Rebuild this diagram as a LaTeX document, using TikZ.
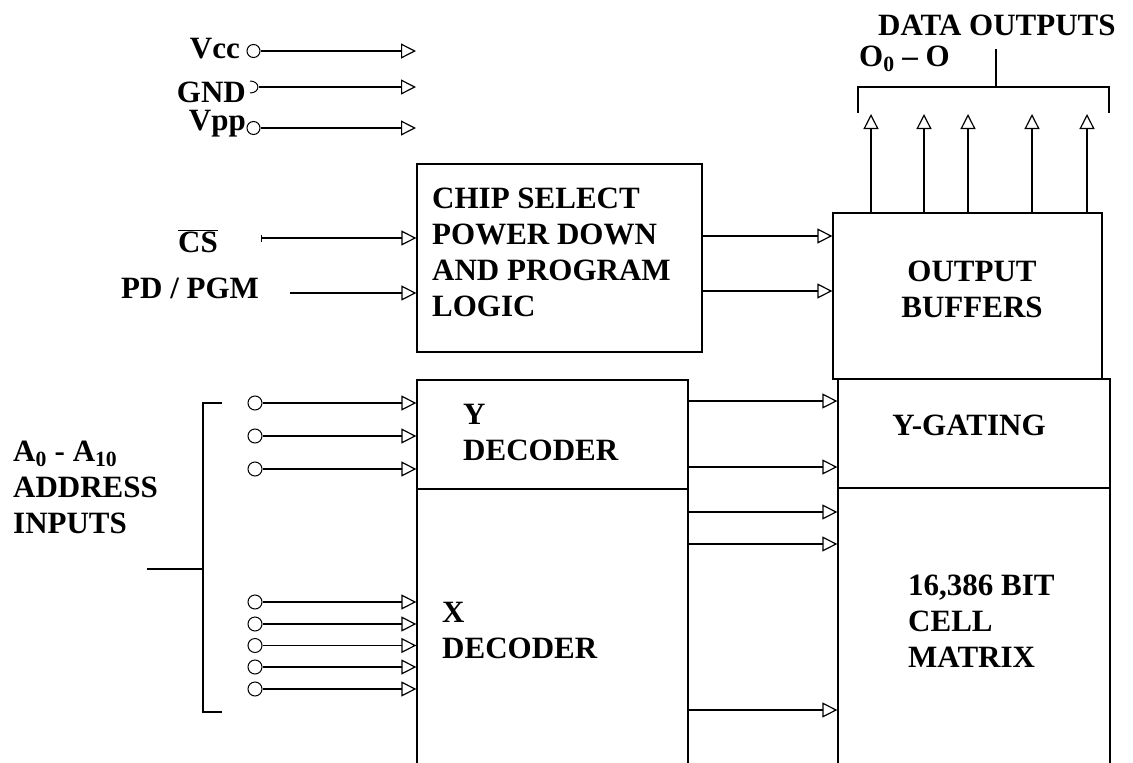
\documentclass[tikz,border=0pt]{standalone}
\usepackage{fontspec}
\setmainfont{Liberation Serif}
\usepackage{tikz}
\usetikzlibrary{arrows.meta, positioning}
\newcommand{\dfont}{\fontsize{31}{36}\selectfont\bfseries}

\begin{document}
\begin{tikzpicture}[
        x=1pt, y=-1pt,
        blk/.style={rectangle, draw, line width=1.3pt, inner sep=0pt},
        lbl/.style={font=\dfont, inner sep=0pt, align=left},
        pin/.style={circle, draw, line width=1pt, minimum size=14pt, inner sep=0pt},
        sig/.style={-{Triangle[open, length=15pt, width=15pt]}, line width=1.2pt},
        brk/.style={line width=1.2pt}
    ]
        \useasboundingbox (0,0) rectangle (1133,763);
        \clip (0,0) rectangle (1133,763);

        % blocks
        \node[blk, minimum width=285pt, minimum height=188pt] (chip) at (559.5,258) {};
        \node[blk, minimum width=269pt, minimum height=166pt] (outbuf) at (967.5,296) {};
        \node[blk, minimum width=271pt, minimum height=109pt] (ydec) at (552.5,434.5) {};
        \node[blk, minimum width=271pt, minimum height=300pt] (xdec) at (552.5,639) {};
        \node[blk, minimum width=272pt, minimum height=109pt] (ygate) at (974,433.5) {};
        \node[blk, minimum width=272pt, minimum height=300pt] (cellmx) at (974,638) {};

        % block texts (anchored at the last line's baseline)
        \node[lbl, anchor=base west] (chiptxt) at (432,316) {CHIP SELECT\\POWER DOWN\\AND PROGRAM\\LOGIC};
        \node[lbl, align=center, anchor=base] (buftxt) at (972,317) {OUTPUT\\BUFFERS};
        \node[lbl, anchor=base west] (ytxt) at (463,460) {Y\\DECODER};
        \node[lbl, anchor=base west] (xtxt) at (442,658) {X\\DECODER};
        \node[lbl, anchor=base] (gatetxt) at (969,435) {Y-GATING};
        \node[lbl, anchor=base west] (celltxt) at (908,667) {16,386 BIT\\CELL\\MATRIX};

        % power pins
        \node[lbl, anchor=base east] (vcc) at (240,58) {Vcc};
        \node[lbl, anchor=base east] (gnd) at (246,102) {GND};
        \node[lbl, anchor=base east] (vpp) at (246,130) {Vpp};
        \node[pin, minimum size=13pt] (vccpin) at (253.5,51) {};
        \coordinate (gndpin) at (259,87);
        \node[pin, minimum size=13pt] (vpppin) at (253.5,128) {};
        \coordinate (vccend) at (416,51);
        \coordinate (gndend) at (416,87);
        \coordinate (vppend) at (416,128);
        \draw[line width=1pt] (250,81) .. controls (260.5,81) and (260.5,93) .. (250,93);
        \draw[sig] (vccpin) -- (vccend);
        \draw[sig] (gndpin) -- (gndend);
        \draw[sig] (vpppin) -- (vppend);

        % control inputs
        \node[lbl, anchor=base west] (cs) at (178,252) {$\overline{\hbox{\dfont CS}}$};
        \node[lbl, anchor=base west] (pdpgm) at (121,298) {PD / PGM};
        \coordinate (csin) at (261,238);
        \coordinate (pdin) at (290,293);
        \draw[{Bar[width=7pt]}-{Triangle[open, length=15pt, width=15pt]}, line width=1.2pt] (csin) -- (csin -| chip.west);
        \draw[sig] (pdin) -- (pdin -| chip.west);

        % chip logic to output buffers
        \draw[sig] (chip.east |- 0,236) -- (outbuf.west |- 0,236);
        \draw[sig] (chip.east |- 0,291) -- (outbuf.west |- 0,291);

        % data outputs
        \coordinate (o1) at (871,114);
        \coordinate (o2) at (924,114);
        \coordinate (o3) at (968,114);
        \coordinate (o4) at (1032,114);
        \coordinate (o5) at (1087,114);
        \draw[sig] (o1 |- outbuf.north) -- (o1);
        \draw[sig] (o2 |- outbuf.north) -- (o2);
        \draw[sig] (o3 |- outbuf.north) -- (o3);
        \draw[sig] (o4 |- outbuf.north) -- (o4);
        \draw[sig] (o5 |- outbuf.north) -- (o5);
        \draw[brk] (858,113) -- (858,87) -- (1109,87) -- (1109,113);
        \draw[brk] (996,49) -- (996,87);
        \node[lbl, anchor=base west] (dout) at (878,35) {DATA OUTPUTS};
        \node[lbl, anchor=base west] (orange) at (859,66) {O\textsubscript{0} -- O};

        % address inputs
        \node[lbl, anchor=base west] (addr) at (13,533) {A\textsubscript{0} - A\textsubscript{10}\\ADDRESS\\INPUTS};
        \node[pin] (a1) at (255,403) {};
        \node[pin] (a2) at (255,436) {};
        \node[pin] (a3) at (255,469) {};
        \node[pin] (a4) at (255,602) {};
        \node[pin] (a5) at (255,624) {};
        \node[pin] (a6) at (255,645.5) {};
        \node[pin] (a7) at (255,667) {};
        \node[pin] (a8) at (255,689) {};
        \draw[sig] (a1) -- (a1 -| ydec.west);
        \draw[sig] (a2) -- (a2 -| ydec.west);
        \draw[sig] (a3) -- (a3 -| ydec.west);
        \draw[sig] (a4) -- (a4 -| xdec.west);
        \draw[sig] (a5) -- (a5 -| xdec.west);
        \draw[sig] (a6) -- (a6 -| xdec.west);
        \draw[sig] (a7) -- (a7 -| xdec.west);
        \draw[sig] (a8) -- (a8 -| xdec.west);
        \draw[brk] (222,403) -- (203,403) -- (203,712) -- (222,712);
        \draw[brk] (147,569) -- (203,569);

        % decoders to gating / matrix
        \draw[sig] (ydec.east |- 0,401) -- (ygate.west |- 0,401);
        \draw[sig] (ydec.east |- 0,467) -- (ygate.west |- 0,467);
        \draw[sig] (xdec.east |- 0,512) -- (cellmx.west |- 0,512);
        \draw[sig] (xdec.east |- 0,544) -- (cellmx.west |- 0,544);
        \draw[sig] (xdec.east |- 0,710) -- (cellmx.west |- 0,710);
    \end{tikzpicture}
\end{document}
